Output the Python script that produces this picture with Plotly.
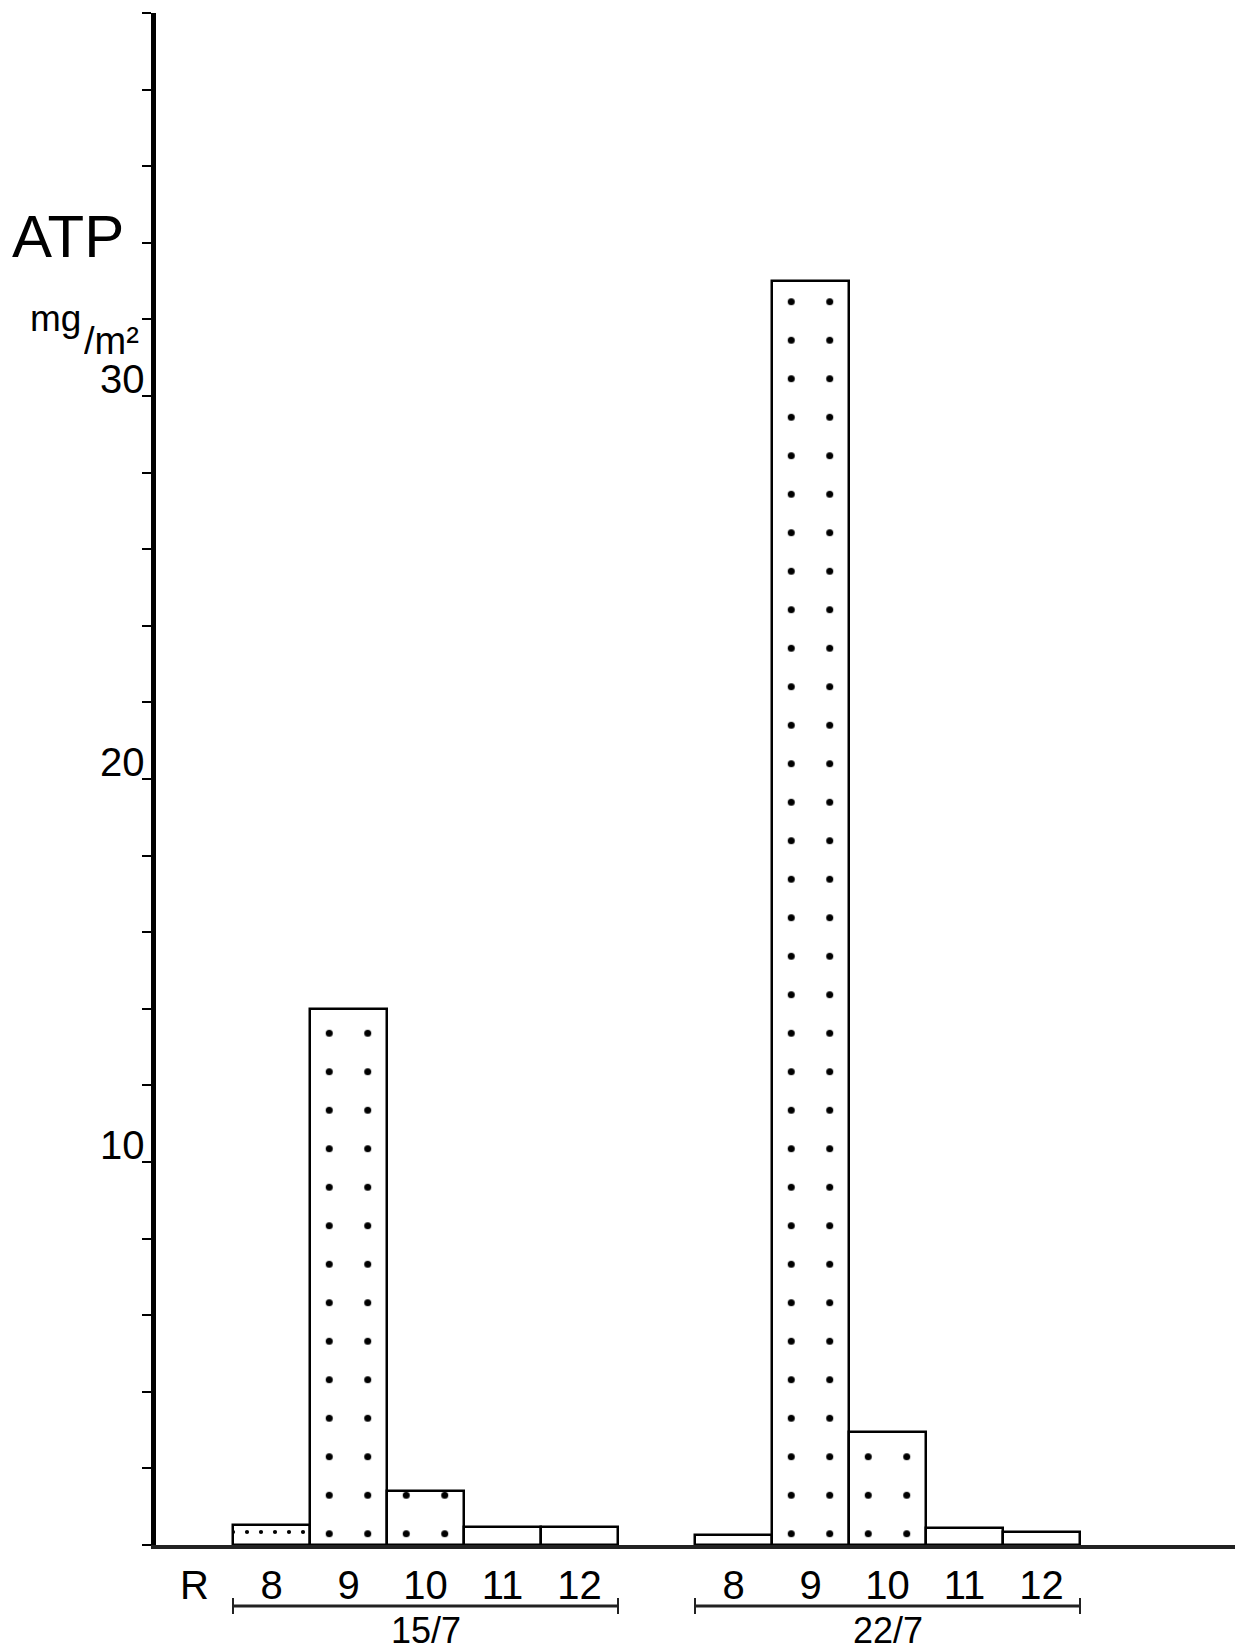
import plotly.graph_objects as go

# ---- data ----
categories = ["R", "8", "9", "10", "11", "12", "", "8", "9", "10", "11", "12"]
dates = ["15/7", "22/7"]
stations = ["8", "9", "10", "11", "12"]
atp_15_7 = [0.52, 14.0, 1.41, 0.47, 0.47]
atp_22_7 = [0.25, 33.0, 2.95, 0.44, 0.34]
group_start = [1, 7]          # index in categories where each date group starts
y_tick_vals = list(range(0, 42, 2))
y_label_vals = [10, 20, 30]
y_title = "ATP"
y_unit_a, y_unit_b = "mg", "/m²"

W, H = 1235, 1651
L, R, T, B = 156, 0, 13, 106
PW, PH = W - L - R, H - T - B
SLOT = 77.0
FONT = "Liberation Sans, Arial, sans-serif"

# patterns (decoration) per station
pat_shape = {"8": ".", "9": ".", "10": ".", "11": "", "12": ""}
pat_size = {"8": 14, "9": SLOT / 2, "10": SLOT / 2, "11": 10, "12": 10}
pat_sol = {"8": 0.07, "9": 0.026, "10": 0.026, "11": 0.1, "12": 0.1}


def px_x(px):
    return (px - L) / PW


def px_y(py):
    return (H - B - py) / PH


fig = go.Figure()
for d, vals, start in zip(dates, [atp_15_7, atp_22_7], group_start):
    xs = [start + i for i in range(len(stations))]
    fig.add_trace(go.Bar(
        x=xs, y=vals, width=1.0, name=d, showlegend=False,
        marker=dict(
            color="white",
            line=dict(color="black", width=2.5),
            pattern=dict(
                shape=[pat_shape[s] for s in stations],
                size=[pat_size[s] for s in stations],
                solidity=[pat_sol[s] for s in stations],
                fgcolor="black", fgopacity=1, fillmode="overlay",
            ),
        ),
    ))

x_max = -0.5 + PW / SLOT

fig.update_xaxes(
    range=[-0.5, x_max], tickmode="array",
    tickvals=list(range(len(categories))), ticktext=categories,
    ticks="", showline=True, linewidth=4, linecolor="#222",
    showgrid=False, zeroline=False, ticklabelstandoff=2,
    tickfont=dict(family=FONT, size=40, color="black"),
)
fig.update_yaxes(
    range=[0, 40], tickmode="array", tickvals=y_tick_vals,
    ticks="outside", ticklen=9, tickwidth=2, tickcolor="black",
    showticklabels=False, showline=True, linewidth=5, linecolor="black",
    showgrid=False, zeroline=False,
)

annotations = []
for v in y_label_vals:
    annotations.append(dict(
        x=0, xref="paper", y=v, yref="y", text=str(v), showarrow=False,
        xanchor="right", yanchor="bottom", xshift=-10, yshift=-2,
        height=36, valign="middle", borderpad=0,
        font=dict(family=FONT, size=40, color="black"),
    ))

shapes = []
for d, start in zip(dates, group_start):
    x0, x1 = start - 0.5, start + len(stations) - 0.5
    yb = px_y(1606)
    shapes.append(dict(type="line", xref="x", yref="paper", x0=x0, x1=x1,
                       y0=yb, y1=yb, line=dict(color="#222", width=3)))
    for xe in (x0, x1):
        shapes.append(dict(type="line", xref="x", yref="paper", x0=xe, x1=xe,
                           y0=px_y(1598), y1=px_y(1614),
                           line=dict(color="#222", width=2)))
    annotations.append(dict(
        x=(x0 + x1) / 2, xref="x", y=px_y(1630), yref="paper", text=d,
        showarrow=False, xanchor="center", yanchor="middle",
        font=dict(family=FONT, size=36, color="black"),
    ))

annotations.append(dict(
    x=px_x(10), xref="paper", y=px_y(236), yref="paper", text=y_title,
    showarrow=False, xanchor="left", yanchor="middle",
    font=dict(family=FONT, size=60, color="black"),
))
annotations.append(dict(
    x=px_x(82), xref="paper", y=px_y(318), yref="paper", text=y_unit_a,
    showarrow=False, xanchor="right", yanchor="middle", borderpad=0,
    font=dict(family=FONT, size=37, color="black"),
))
annotations.append(dict(
    x=px_x(83), xref="paper", y=px_y(341), yref="paper", text=y_unit_b,
    showarrow=False, xanchor="left", yanchor="middle", borderpad=0,
    height=34, valign="middle",
    font=dict(family=FONT, size=38, color="black"),
))

fig.update_layout(
    width=W, height=H, margin=dict(l=L, r=R, t=T, b=B, pad=0),
    paper_bgcolor="white", plot_bgcolor="white",
    bargap=0, annotations=annotations, shapes=shapes,
    font=dict(family=FONT, color="black"),
)

fig.write_html("out.html", config={"displayModeBar": False},
               post_script="document.body.style.margin='0';")
